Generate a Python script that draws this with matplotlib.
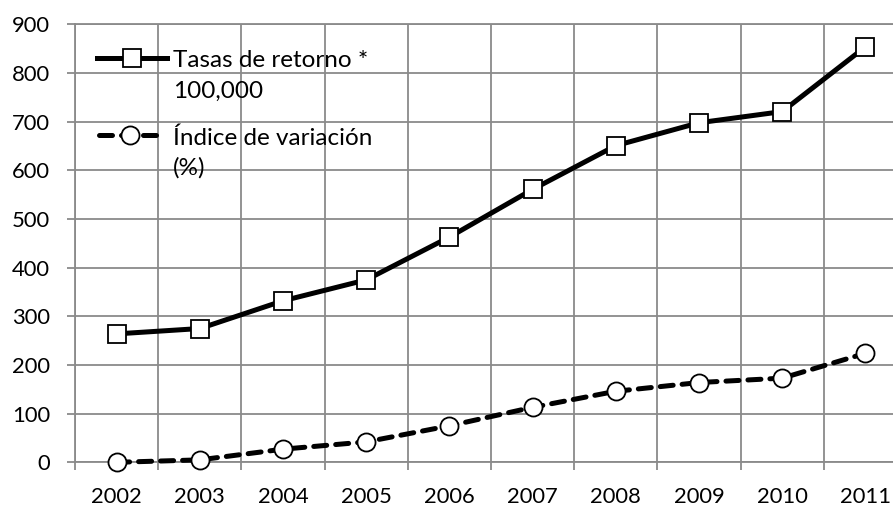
import matplotlib
matplotlib.use("Agg")
import matplotlib.pyplot as plt
import numpy as np

years = ["2002", "2003", "2004", "2005", "2006", "2007", "2008", "2009", "2010", "2011"]
tasas = [264, 275, 332, 375, 463, 561, 651, 698, 721, 854]
indice = [0, 5, 27, 42, 75, 113, 146, 164, 173, 224]
yticks = [0, 100, 200, 300, 400, 500, 600, 700, 800, 900]
label_tasas = ["Tasas de retorno *", "100,000"]
label_indice = ["Índice de variación", "(%)"]

plt.rcParams['font.family'] = ['Lato', 'DejaVu Sans']

W, H = 893, 507
fig = plt.figure(figsize=(W / 100, H / 100), dpi=100)
# axes: left 75px, right 907px (beyond figure), top 24.5px, bottom 462.3px
ax = fig.add_axes([75 / W, (H - 462.3) / H, 832 / W, (462.3 - 24.5) / H])

x = np.arange(len(years))
grid_c = '#8a8a8a'
LW = 3.6
DASH = (2.6, 1.8)

ax.plot(x, tasas, color='black', lw=LW, marker='s', markersize=12.5,
        markerfacecolor='white', markeredgecolor='black', markeredgewidth=1.3, zorder=3,
        clip_on=False, solid_joinstyle='round')
ax.plot(x, indice, color='black', lw=LW, dashes=DASH, dash_capstyle='round',
        marker='o', markersize=13,
        markerfacecolor='white', markeredgecolor='black', markeredgewidth=1.3, zorder=3,
        clip_on=False)

ax.set_xlim(-0.5, len(years) - 0.5)
ax.set_ylim(0, 900)
ax.set_yticks(yticks)
ax.set_yticklabels([str(v) for v in yticks])
ax.set_xticks(np.arange(-0.5, len(years), 1.0))
ax.set_xticklabels([])
ax.set_xticks(x, minor=True)
ax.set_xticklabels(years, minor=True)

ax.grid(True, which='major', color=grid_c, lw=1.3)
ax.set_axisbelow(True)
ax.tick_params(axis='both', which='major', length=5.8, width=1.3, color=grid_c,
               direction='out', labelsize=15.8, pad=12)
ax.tick_params(axis='x', which='minor', length=0, labelsize=15.8, pad=18)
for s in ax.spines.values():
    s.set_color(grid_c)
    s.set_linewidth(1.3)
ax.spines['right'].set_visible(False)

# manual legend in pixel coordinates
ov = fig.add_axes([0, 0, 1, 1], facecolor='none')
ov.set_xlim(0, W)
ov.set_ylim(H, 0)
ov.axis('off')
ov.plot([97, 167], [58.3, 58.3], color='black', lw=LW)
ov.plot([131.5], [58.3], marker='s', markersize=12.5, markerfacecolor='white',
        markeredgecolor='black', markeredgewidth=1.3, color='black')
ov.plot([99, 163], [135, 135], color='black', lw=LW, dashes=DASH, dash_capstyle='round')
ov.plot([130], [135], marker='o', markersize=13, markerfacecolor='white',
        markeredgecolor='black', markeredgewidth=1.3, color='black')
fs_leg = 17.5
ov.text(173, 66.7, label_tasas[0], fontsize=fs_leg, va='baseline', ha='left')
ov.text(173, 97.7, label_tasas[1], fontsize=fs_leg, va='baseline', ha='left')
ov.text(173, 145, label_indice[0], fontsize=fs_leg, va='baseline', ha='left')
ov.text(173, 175, label_indice[1], fontsize=fs_leg, va='baseline', ha='left')

fig.savefig('out.png', dpi=100)
